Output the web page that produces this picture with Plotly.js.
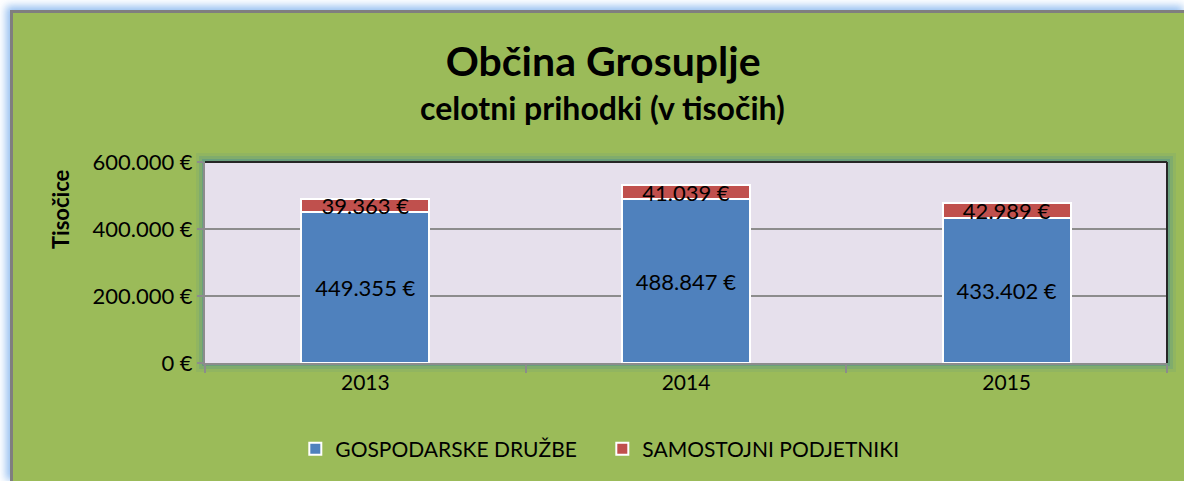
<!DOCTYPE html>
<html>
<head>
<meta charset="utf-8">
<script src="https://cdn.plot.ly/plotly-3.0.1.min.js"></script>
<style>
  html, body { margin:0; padding:0; background:#ffffff; width:1184px; height:481px; overflow:hidden; }
  #frame { position:absolute; left:10px; top:10px; width:1174px; height:471px;
           border-left:3px solid #7f7f7f; border-top:3px solid #7f7f7f;
           box-shadow: -4px -4px 8px rgba(140,185,240,0.9); background:#9BBB59; }
  #chart { position:absolute; left:13px; top:13px; width:1171px; height:468px; }
</style>
</head>
<body>
<div id="frame"></div>
<div id="chart"></div>
<script>
const years = ['2013', '2014', '2015'];
const gospodarskeDruzbe = [449355, 488847, 433402];
const samostojniPodjetniki = [39363, 41039, 42989];
const seriesNames = ['GOSPODARSKE DRUŽBE', 'SAMOSTOJNI PODJETNIKI'];
const yTicks = [0, 200000, 400000, 600000];
const yTickLabels = ['0 €', '200.000 €', '400.000 €', '600.000 €'];

const FONT = 'Lato, "Noto Sans", sans-serif';

const traces = [
  {
    type: 'bar', name: seriesNames[0], x: years, y: gospodarskeDruzbe,
    marker: { color: '#4F81BD', line: { color: '#ffffff', width: 2 } },
    texttemplate: '%{y:,.0f} €', textposition: 'inside', insidetextanchor: 'middle',
    constraintext: 'none', textfont: { family: FONT, size: 22, color: '#000000' },
    hoverinfo: 'skip'
  },
  {
    type: 'bar', name: seriesNames[1], x: years, y: samostojniPodjetniki,
    marker: { color: '#C0504D', line: { color: '#ffffff', width: 2 } },
    texttemplate: '%{y:,.0f} €', textposition: 'inside', insidetextanchor: 'middle',
    constraintext: 'none', textfont: { family: FONT, size: 22, color: '#000000' },
    hoverinfo: 'skip'
  }
];

function glow(w, op) {
  return { type: 'rect', xref: 'paper', yref: 'paper', x0: 0, x1: 1, y0: 0, y1: 1,
           layer: 'below', line: { color: 'rgba(70,140,150,' + op + ')', width: w },
           fillcolor: 'rgba(0,0,0,0)' };
}

const layout = {
  width: 1171, height: 468,
  margin: { l: 192, r: 17, t: 149, b: 118, pad: 0 },
  paper_bgcolor: '#9BBB59',
  plot_bgcolor: 'rgba(0,0,0,0)',
  separators: ',.',
  barmode: 'stack',
  bargap: 0.6,
  showlegend: true,
  font: { family: FONT, color: '#000000' },
  title: {
    text: 'Občina Grosuplje',
    font: { family: FONT, size: 41, color: '#000000', weight: 700 },
    x: 0.504, xanchor: 'center', y: 0.897, yanchor: 'middle'
  },
  xaxis: {
    type: 'category',
    showline: true, linecolor: '#8c8c8c', linewidth: 2,
    ticks: 'outside', tickson: 'boundaries', ticklen: 8, tickcolor: '#8c8c8c', tickwidth: 2,
    tickfont: { family: FONT, size: 21, color: '#000000' },
    showgrid: false, fixedrange: true
  },
  yaxis: {
    range: [0, 600000], tickmode: 'array', tickvals: yTicks, ticktext: yTickLabels,
    showline: true, linecolor: '#8c8c8c', linewidth: 2,
    ticks: 'outside', ticklen: 6, tickcolor: '#8c8c8c', tickwidth: 2,
    tickfont: { family: FONT, size: 22, color: '#000000' },
    showgrid: true, gridcolor: '#8c8c8c', gridwidth: 1.5,
    zeroline: false, fixedrange: true
  },
  legend: {
    orientation: 'h', x: 0.413, xanchor: 'center', y: -0.428, yanchor: 'middle',
    font: { family: FONT, size: 21, color: '#000000' },
    bgcolor: 'rgba(0,0,0,0)', traceorder: 'normal',
    entrywidth: 262, entrywidthmode: 'pixels'
  },
  annotations: [
    { text: '<b>celotni prihodki (v tisočih)</b>', xref: 'paper', yref: 'paper',
      x: 0.4137, y: 1.2687, xanchor: 'center', yanchor: 'middle', showarrow: false,
      font: { family: FONT, size: 32, color: '#000000' } },
    { text: '<b>Tisočice</b>', xref: 'paper', yref: 'paper', textangle: -90,
      x: -0.1507, y: 0.766, xanchor: 'center', yanchor: 'middle', showarrow: false,
      font: { family: FONT, size: 22, color: '#000000' } }
  ],
  shapes: [
    glow(18, 0.12), glow(12, 0.22), glow(6, 0.4),
    { type: 'rect', xref: 'paper', yref: 'paper', x0: 0, x1: 1, y0: 0, y1: 1, layer: 'below',
      line: { width: 0 }, fillcolor: '#E6E0EC' },
    { type: 'line', xref: 'paper', yref: 'paper', x0: 0, x1: 1, y0: 1, y1: 1, layer: 'above',
      line: { color: '#262626', width: 2 } },
    { type: 'line', xref: 'paper', yref: 'paper', x0: 1, x1: 1, y0: 0, y1: 1, layer: 'above',
      line: { color: '#262626', width: 2 } }
  ]
};

Plotly.newPlot('chart', traces, layout, { displayModeBar: false, staticPlot: true });
</script>
</body>
</html>
